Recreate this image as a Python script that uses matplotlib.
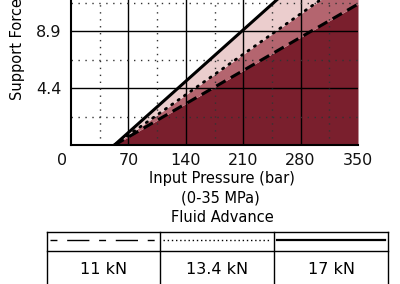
import matplotlib
matplotlib.use("Agg")
import matplotlib.pyplot as plt
import numpy as np
from matplotlib.transforms import ScaledTranslation

# Data
pressure_start = 53.0           # bar where force starts rising
pressure_max = 350.0
max_forces = [11.0, 13.4, 17.0]  # kN at 350 bar
series_labels = ["11 kN", "13.4 kN", "17 kN"]
xticks = [0, 70, 140, 210, 280, 350]
xminor = [35, 105, 175, 245, 315]
yticks = [4.45, 8.9]
ytick_labels = ["4.4", "8.9"]
ymajor_extra = [13.35, 17.8]
yminor = [2.225, 6.675, 11.125, 15.575]

dark = "#7a1f2d"
mid = "#b4656f"
light = "#ebcdcd"

W, H = 400, 284
fig = plt.figure(figsize=(W / 100, H / 100), dpi=100)
plt.rcParams['font.family'] = ['DejaVu Sans']

def fx(px):
    return px / W

def fy(py):
    return 1 - py / H

ax_l, ax_r, ax_b, ax_t = 71, 358, 145, -83
ax = fig.add_axes([fx(ax_l), fy(ax_b), fx(ax_r - ax_l), (ax_b - ax_t) / H])
ax.set_xlim(0, 350)
ax.set_ylim(0, 17.8)

x = np.array([pressure_start, pressure_max])
lines = [np.array([0.0, f]) for f in max_forces]

ax.fill_between(x, 0, lines[0], color=dark, lw=0, zorder=1)
ax.fill_between(x, lines[0], lines[1], color=mid, lw=0, zorder=1)
ax.fill_between(x, lines[1], lines[2], color=light, lw=0, zorder=1)

# grid
for v in xticks[1:-1]:
    ax.axvline(v, color="black", lw=1.0, zorder=2)
for v in yticks + ymajor_extra:
    ax.axhline(v, color="black", lw=1.0, zorder=2)
for v in xminor:
    ax.axvline(v, color="#333333", lw=1.0, ls=(0, (1, 4)), zorder=2)
for v in yminor:
    ax.axhline(v, color="#333333", lw=1.0, ls=(0, (1, 4)), zorder=2)

ax.plot(x, lines[0], color="black", lw=2.2, ls=(0, (3.5, 2)), zorder=3)
ax.plot(x, lines[1], color="black", lw=2.0, ls=(0, (0.5, 2.3)), dash_capstyle="round", zorder=3)
ax.plot(x, lines[2], color="black", lw=2.2, zorder=3)

for s in ["top", "right"]:
    ax.spines[s].set_visible(False)
ax.spines["left"].set_linewidth(1.5)
ax.spines["bottom"].set_linewidth(1.5)

ax.set_xticks(xticks)
ax.set_xticklabels([str(v) for v in xticks])
ax.set_yticks(yticks)
ax.set_yticklabels(ytick_labels)
ax.tick_params(length=0, labelsize=11.5, colors="#111111")
ax.tick_params(axis="x", pad=6)
ax.tick_params(axis="y", pad=7)
lbl0 = ax.get_xticklabels()[0]
lbl0.set_transform(lbl0.get_transform() + ScaledTranslation(-9 / 100, 0, fig.dpi_scale_trans))
ax.set_ylabel("Support Force (kN)", fontsize=10.5)
ax.yaxis.set_label_coords(-0.160, 0.5)

fig.text(fx(222), fy(179), "Input Pressure (bar)", ha="center", va="center", fontsize=10.5)
fig.text(fx(220), fy(198), "(0-35 MPa)", ha="center", va="center", fontsize=10.5)
fig.text(fx(222), fy(217), "Fluid Advance", ha="center", va="center", fontsize=10.5)

# legend table
tab = fig.add_axes([0, 0, 1, 1], zorder=5)
tab.set_xlim(0, W)
tab.set_ylim(H, 0)
tab.axis("off")
tl, tr, tt, tm, tb = 47, 388, 232, 251, 300
cols = [47, 160, 274, 388]
tab.plot([tl, tr], [tt, tt], color="black", lw=1.0)
tab.plot([tl, tr], [tm, tm], color="black", lw=1.0)
for c in cols:
    tab.plot([c, c], [tt, tb], color="black", lw=1.0)
ly = 240
tab.plot([cols[0] + 3, cols[1] - 3], [ly, ly], color="black", lw=1.0, ls=(0, (5, 7, 16, 7)))
tab.plot([cols[1] + 3, cols[2] - 3], [ly, ly], color="black", lw=1.0, ls=(0, (1, 2)))
tab.plot([cols[2] + 3, cols[3] - 3], [ly, ly], color="black", lw=1.6)
for i, s in enumerate(series_labels):
    tab.text((cols[i] + cols[i + 1]) / 2, 270, s, ha="center", va="center", fontsize=11.5)

fig.savefig("out.png", dpi=100)
